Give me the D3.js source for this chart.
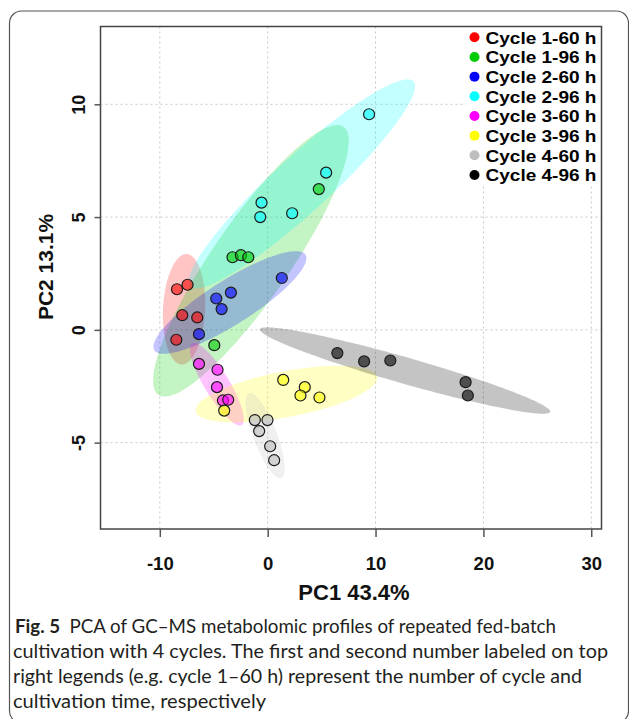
<!DOCTYPE html>
<html>
<head>
<meta charset="utf-8">
<script src="https://cdn.jsdelivr.net/npm/d3@7"></script>
<style>
  html, body { margin: 0; padding: 0; background: #fff; }
  svg { display: block; }
</style>
</head>
<body>
<svg id="chart" width="629" height="719"></svg>
<script>
// groups, in legend order
const groups = [
  "Cycle 1-60 h", "Cycle 1-96 h", "Cycle 2-60 h", "Cycle 2-96 h",
  "Cycle 3-60 h", "Cycle 3-96 h", "Cycle 4-60 h", "Cycle 4-96 h",
];
const colors = ["#ff0000", "#00cd00", "#0000ff", "#00ffff", "#ff00ff", "#ffff00", "#bebebe", "#000000"];

// scores, one row per group
const pc1 = [
  [-8.41, -7.43, -7.92, -6.53, -8.47],
  [4.74, -3.26, -2.48, -1.8, -4.95],
  [1.31, -3.41, -4.77, -4.27, -6.37],
  [9.4, 5.42, -0.57, -0.69, 2.27],
  [-6.37, -4.65, -4.7, -4.15, -3.66],
  [-4.03, 1.44, 3.44, 3.04, 4.8],
  [-1.19, -0.02, -0.79, 0.23, 0.6],
  [6.46, 8.94, 11.37, 18.35, 18.56],
];
const pc2 = [
  [1.8, 2.0, 0.65, 0.55, -0.44],
  [6.24, 3.22, 3.31, 3.22, -0.68],
  [2.3, 1.65, 1.39, 0.92, -0.19],
  [9.56, 6.97, 5.64, 5.0, 5.17],
  [-1.51, -1.77, -2.54, -3.13, -3.1],
  [-3.58, -2.22, -2.54, -2.91, -3.0],
  [-4.0, -4.0, -4.49, -5.16, -5.78],
  [-1.03, -1.4, -1.36, -2.32, -2.91],
];

const xTicks = [-10, 0, 10, 20, 30];
const yTicks = [-5, 0, 5, 10];

const captionLines = [
  "PCA of GC\u2013MS metabolomic profiles of repeated fed-batch",
  "cultivation with 4 cycles. The first and second number labeled on top",
  "right legends (e.g. cycle 1\u201360 h) represent the number of cycle and",
  "cultivation time, respectively",
];

const plot = { left: 100.5, right: 601.5, top: 26.5, bottom: 529 };
const chartFont = "'Liberation Sans', Arial, sans-serif";

const svg = d3.select("#chart");

const x = d3.scaleLinear().domain([-15.5, 30.95]).range([plot.left, plot.right]);
const y = d3.scaleLinear().domain([-8.83, 13.45]).range([plot.bottom, plot.top]);

// outer figure frame
svg.append("rect")
  .attr("x", 9.5).attr("y", 11)
  .attr("width", 619).attr("height", 712)
  .attr("rx", 12)
  .attr("fill", "none")
  .attr("stroke", "#555")
  .attr("stroke-width", 1.2);

// dotted grid
const grid = svg.append("g")
  .attr("stroke", "#c8c8c8")
  .attr("stroke-dasharray", "2,3")
  .attr("stroke-width", 1);
xTicks.forEach((t) => {
  grid.append("line")
    .attr("x1", x(t)).attr("x2", x(t))
    .attr("y1", plot.top).attr("y2", plot.bottom);
});
yTicks.forEach((t) => {
  grid.append("line")
    .attr("x1", plot.left).attr("x2", plot.right)
    .attr("y1", y(t)).attr("y2", y(t));
});

// 95% confidence ellipse from sample covariance
function confEllipse(xs, ys) {
  const n = xs.length;
  const mx = d3.mean(xs), my = d3.mean(ys);
  let a = 0, b = 0, c = 0;
  for (let i = 0; i < n; i++) {
    a += (xs[i] - mx) ** 2;
    b += (xs[i] - mx) * (ys[i] - my);
    c += (ys[i] - my) ** 2;
  }
  a /= n - 1; b /= n - 1; c /= n - 1;
  const l11 = Math.sqrt(a);
  const l21 = b / l11;
  const l22 = Math.sqrt(Math.max(c - l21 * l21, 0));
  const k = Math.sqrt(5.991);
  return d3.range(0, 2 * Math.PI, Math.PI / 90).map((t) => {
    const u = Math.cos(t), v = Math.sin(t);
    return [mx + k * l11 * u, my + k * (l21 * u + l22 * v)];
  });
}

const line = d3.line()
  .x((d) => x(d[0]))
  .y((d) => y(d[1]))
  .curve(d3.curveLinearClosed);

svg.append("clipPath").attr("id", "plotClip")
  .append("rect")
  .attr("x", plot.left).attr("y", plot.top)
  .attr("width", plot.right - plot.left).attr("height", plot.bottom - plot.top);

const ellG = svg.append("g").attr("clip-path", "url(#plotClip)");
groups.forEach((g, i) => {
  ellG.append("path")
    .attr("d", line(confEllipse(pc1[i], pc2[i])))
    .attr("fill", colors[i])
    .attr("fill-opacity", 0.23)
    .attr("stroke", "none");
});

// points
const ptG = svg.append("g");
groups.forEach((g, i) => {
  pc1[i].forEach((v, j) => {
    ptG.append("circle")
      .attr("cx", x(v))
      .attr("cy", y(pc2[i][j]))
      .attr("r", 5.5)
      .attr("fill", colors[i])
      .attr("fill-opacity", 0.6)
      .attr("stroke", "#1a1a1a")
      .attr("stroke-width", 1.2);
  });
});

// legend (white box over the grid)
const legend = svg.append("g");
legend.append("rect")
  .attr("x", 466).attr("y", plot.top + 0.5)
  .attr("width", plot.right - 466).attr("height", 159)
  .attr("fill", "#fff");
groups.forEach((g, i) => {
  const cy = 37.3 + i * 19.67;
  legend.append("circle")
    .attr("cx", 474.5).attr("cy", cy).attr("r", 5)
    .attr("fill", colors[i]);
  legend.append("text")
    .attr("x", 485.5).attr("y", cy + 6.2)
    .attr("font-family", chartFont)
    .attr("font-weight", "bold")
    .attr("font-size", 17)
    .attr("textLength", 111)
    .attr("lengthAdjust", "spacingAndGlyphs")
    .attr("fill", "#000")
    .text(g);
});

// plot box
svg.append("rect")
  .attr("x", plot.left).attr("y", plot.top)
  .attr("width", plot.right - plot.left).attr("height", plot.bottom - plot.top)
  .attr("fill", "none")
  .attr("stroke", "#444")
  .attr("stroke-width", 1.5);

const plainFmt = (d) => String(d);

// x axis
const xAxis = svg.append("g")
  .attr("transform", `translate(0,${plot.bottom})`)
  .call(d3.axisBottom(x).tickValues(xTicks).tickFormat(plainFmt).tickSize(8).tickPadding(20));
xAxis.select(".domain").remove();
xAxis.selectAll(".tick line").attr("stroke", "#555").attr("stroke-width", 1.5);
xAxis.selectAll(".tick text")
  .attr("font-family", chartFont)
  .attr("font-weight", "bold")
  .attr("font-size", 18.5)
  .attr("fill", "#111");

// y axis, labels parallel to axis
const yAxis = svg.append("g")
  .attr("transform", `translate(${plot.left},0)`)
  .call(d3.axisLeft(y).tickValues(yTicks).tickFormat(plainFmt).tickSize(6));
yAxis.select(".domain").remove();
yAxis.selectAll(".tick line").attr("stroke", "#555").attr("stroke-width", 1.5);
yAxis.selectAll(".tick text")
  .attr("x", null).attr("dy", null)
  .attr("transform", "translate(-16,0) rotate(-90)")
  .attr("text-anchor", "middle")
  .attr("font-family", chartFont)
  .attr("font-weight", "bold")
  .attr("font-size", 18)
  .attr("fill", "#111");

// axis titles
svg.append("text")
  .attr("x", 354).attr("y", 600)
  .attr("text-anchor", "middle")
  .attr("font-family", chartFont)
  .attr("font-weight", "bold")
  .attr("font-size", 22)
  .attr("fill", "#111")
  .text("PC1 43.4%");

svg.append("text")
  .attr("transform", "translate(53,267) rotate(-90)")
  .attr("text-anchor", "middle")
  .attr("font-family", chartFont)
  .attr("font-weight", "bold")
  .attr("font-size", 21)
  .attr("fill", "#111")
  .text("PC2 13.1%");

// caption
const capEnds = [556, 608, 582, 266];
const cap = svg.append("g")
  .attr("font-family", "Lato, 'Noto Sans', sans-serif")
  .attr("font-size", 19.5)
  .attr("fill", "#231f20");
captionLines.forEach((s, i) => {
  const t = cap.append("text")
    .attr("x", i === 0 ? 15 : 13)
    .attr("y", 633 + i * 25)
    .attr("textLength", capEnds[i] - (i === 0 ? 15 : 13))
    .attr("lengthAdjust", "spacingAndGlyphs");
  if (i === 0) {
    t.append("tspan").attr("font-weight", "bold").text("Fig. 5");
    t.append("tspan").text("\u2002" + s);
  } else {
    t.text(s);
  }
});
</script>
</body>
</html>
